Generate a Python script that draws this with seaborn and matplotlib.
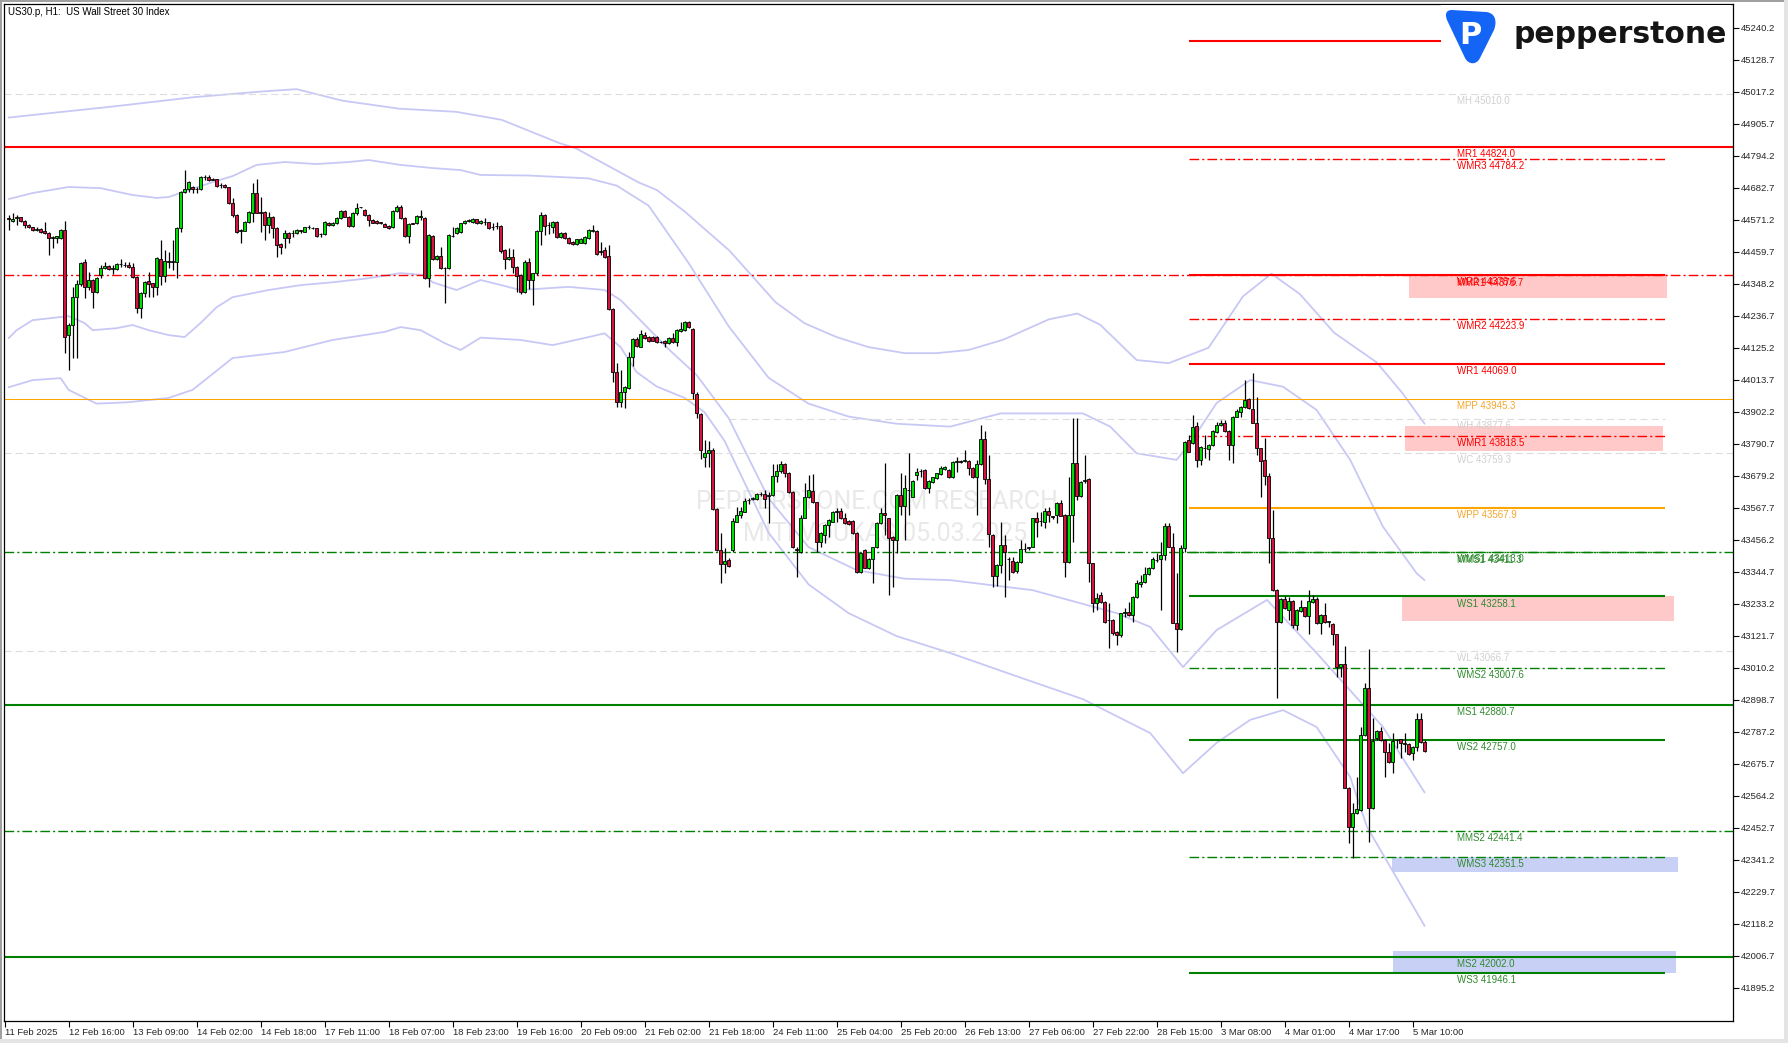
import numpy as np
import pandas as pd
import matplotlib
matplotlib.use("Agg")
import matplotlib.pyplot as plt
from matplotlib.path import Path
from matplotlib.patches import PathPatch, Rectangle
from matplotlib.transforms import IdentityTransform
import seaborn as sns

# ---- hourly candles (US30, H1) ----
opens = [
    44576, 44567, 44576, 44579, 44567, 44553, 44544, 44536, 44538, 44533,
    44524, 44506, 44506, 44506, 44535, 44169, 44204, 44303, 44346, 44422,
    44338, 44361, 44320, 44378, 44402, 44410, 44400, 44398, 44416, 44414,
    44413, 44407, 44373, 44262, 44314, 44357, 44349, 44338, 44433, 44376,
    44426, 44425, 44422, 44541, 44669, 44677, 44686, 44678, 44677, 44719,
    44719, 44712, 44712, 44692, 44692, 44684, 44630, 44587, 44533, 44533,
    44564, 44596, 44665, 44596, 44599, 44553, 44582, 44541, 44486, 44506,
    44524, 44524, 44524, 44533, 44529, 44544, 44542, 44541, 44521, 44521,
    44561, 44553, 44558, 44578, 44601, 44582, 44549, 44593, 44614, 44605,
    44587, 44570, 44567, 44561, 44556, 44549, 44544, 44601, 44617, 44576,
    44514, 44558, 44558, 44582, 44578, 44367, 44514, 44433, 44445, 44402,
    44402, 44515, 44526, 44529, 44558, 44567, 44564, 44572,
    44558, 44562, 44562, 44545, 44549, 44549, 44466, 44433, 44442, 44405,
    44378, 44320, 44425, 44361, 44384, 44533, 44588, 44553, 44547, 44562,
    44512, 44526, 44508, 44495, 44485, 44491, 44489, 44508, 44533, 44533,
    44460, 44466, 44445, 44260, 44039, 43935, 43972, 43983, 44091, 44155,
    44129, 44169, 44163, 44163, 44163, 44146, 44149, 44140, 44160, 44146,
    44183, 44187, 44213, 44189, 43964, 43893, 43745, 43757, 43768, 43562,
    43420, 43371, 43385, 43420, 43519, 43542, 43554, 43594, 43599, 43597,
    43614, 43614, 43609, 43612, 43679, 43695, 43720, 43687, 43623, 43425,
    43414, 43533, 43604, 43626, 43586, 43447, 43472, 43507, 43519, 43554,
    43556, 43530, 43522, 43521, 43480, 43342, 43420, 43358, 43389, 43429,
    43515, 43550, 43530, 43466, 43455, 43612, 43575, 43629, 43606, 43681,
    43695, 43699, 43637, 43658, 43670, 43684, 43701, 43699, 43675, 43727,
    43728, 43731, 43730,
    43705, 43673, 43720, 43806, 43667, 43472, 43329, 43368, 43437, 43389,
    43382, 43348, 43377, 43423, 43428, 43432, 43530, 43521, 43519, 43557,
    43537, 43542, 43585, 43542, 43377, 43542, 43722, 43609, 43661, 43667,
    43373, 43234, 43263, 43240, 43176, 43176, 43135, 43124, 43201, 43203,
    43195, 43257, 43301, 43307, 43335, 43356, 43385, 43387, 43402, 43504,
    43429, 43167, 43143, 43426, 43803, 43792, 43852, 43734, 43774, 43771,
    43786, 43832, 43856, 43861, 43835, 43786, 43885, 43902, 43919, 43945,
    43910, 43864, 43774, 43734, 43678, 43461, 43280, 43170, 43248, 43211,
    43243, 43159, 43208, 43220, 43190, 43240, 43248, 43164, 43193, 43170,
    43161, 43126, 43011, 43021, 42592, 42456, 42502, 42514, 42775, 42938,
    42520, 42766, 42789, 42758, 42717, 42680, 42757, 42760, 42745, 42744,
    42711, 42734, 42830, 42752,
]
highs = [
    44587, 44593, 44587, 44582, 44569, 44556, 44547, 44544, 44541, 44564,
    44527, 44514, 44516, 44538, 44567, 44210, 44338, 44361, 44425, 44433,
    44390, 44364, 44370, 44413, 44425, 44413, 44413, 44420, 44433, 44425,
    44425, 44419, 44376, 44318, 44358, 44390, 44352, 44440, 44500, 44465,
    44460, 44500, 44545, 44672, 44744, 44705, 44690, 44684, 44722, 44727,
    44727, 44716, 44714, 44698, 44695, 44686, 44646, 44590, 44538, 44567,
    44602, 44698, 44712, 44651, 44602, 44599, 44585, 44544, 44489, 44535,
    44527, 44535, 44538, 44536, 44547, 44553, 44545, 44543, 44524, 44567,
    44564, 44564, 44580, 44605, 44604, 44584, 44599, 44630, 44617, 44608,
    44590, 44573, 44570, 44564, 44558, 44552, 44604, 44622, 44622, 44579,
    44558, 44561, 44587, 44605, 44580, 44521, 44517, 44448, 44477, 44405,
    44521, 44547, 44544, 44561, 44570, 44572, 44576, 44575,
    44569, 44578, 44564, 44558, 44564, 44552, 44469, 44471, 44468, 44408,
    44381, 44431, 44436, 44387, 44536, 44599, 44591, 44564, 44565, 44565,
    44527, 44529, 44511, 44497, 44505, 44506, 44515, 44538, 44553, 44536,
    44492, 44477, 44483, 44263, 44073, 44047, 43992, 44111, 44158, 44163,
    44187, 44181, 44166, 44166, 44166, 44150, 44152, 44163, 44175, 44190,
    44216, 44218, 44218, 44192, 43969, 43896, 43803, 43801, 43777, 43565,
    43478, 43426, 43391, 43530, 43571, 43571, 43600, 43600, 43606, 43618,
    43623, 43629, 43623, 43718, 43718, 43731, 43723, 43693, 43626, 43432,
    43542, 43655, 43681, 43684, 43589, 43481, 43510, 43528, 43557, 43565,
    43565, 43550, 43525, 43524, 43483, 43414, 43423, 43392, 43432, 43518,
    43565, 43722, 43533, 43469, 43615, 43689, 43681, 43757, 43664, 43705,
    43701, 43702, 43664, 43676, 43690, 43713, 43713, 43702, 43731, 43745,
    43733, 43768, 43733,
    43708, 43734, 43856, 43836, 43751, 43475, 43371, 43519, 43472, 43394,
    43397, 43380, 43455, 43443, 43432, 43533, 43554, 43554, 43565, 43571,
    43539, 43588, 43594, 43545, 43673, 43879, 43879, 43661, 43751, 43670,
    43376, 43269, 43275, 43243, 43234, 43179, 43138, 43202, 43217, 43240,
    43260, 43315, 43333, 43362, 43362, 43397, 43408, 43449, 43513, 43515,
    43478, 43339, 43437, 43800, 43821, 43890, 43867, 43781, 43821, 43789,
    43838, 43867, 43873, 43873, 43838, 43888, 43910, 43922, 44012, 43948,
    44036, 43952, 43777, 43809, 43687, 43559, 43283, 43251, 43260, 43257,
    43246, 43214, 43246, 43223, 43281, 43263, 43257, 43196, 43234, 43174,
    43164, 43129, 43024, 43085, 42595, 42537, 42630, 42804, 42955, 43074,
    42833, 42792, 42804, 42761, 42746, 42783, 42763, 42763, 42781, 42747,
    42737, 42853, 42853, 42758,
]
lows = [
    44535, 44564, 44553, 44564, 44541, 44541, 44530, 44533, 44526, 44521,
    44448, 44471, 44489, 44503, 44105, 44047, 44088, 44088, 44340, 44297,
    44326, 44262, 44315, 44367, 44398, 44395, 44382, 44395, 44407, 44405,
    44402, 44367, 44245, 44227, 44303, 44303, 44303, 44309, 44344, 44355,
    44402, 44396, 44367, 44529, 44663, 44669, 44663, 44663, 44674, 44710,
    44707, 44708, 44686, 44681, 44681, 44627, 44579, 44526, 44489, 44530,
    44561, 44564, 44593, 44529, 44500, 44524, 44506, 44440, 44452, 44471,
    44491, 44510, 44521, 44524, 44527, 44538, 44537, 44510, 44510, 44518,
    44550, 44550, 44556, 44575, 44579, 44546, 44546, 44587, 44612, 44584,
    44549, 44558, 44556, 44557, 44544, 44538, 44541, 44598, 44573, 44511,
    44491, 44555, 44555, 44570, 44365, 44338, 44430, 44430, 44399, 44280,
    44399, 44510, 44522, 44526, 44555, 44563, 44561, 44555,
    44556, 44553, 44538, 44535, 44537, 44456, 44399, 44430, 44384, 44320,
    44311, 44315, 44330, 44274, 44378, 44483, 44518, 44520, 44524, 44509,
    44509, 44505, 44488, 44482, 44483, 44489, 44486, 44505, 44529, 44449,
    44448, 44439, 44257, 44007, 43919, 43919, 43914, 43980, 44062, 44129,
    44126, 44157, 44145, 44147, 44141, 44141, 44129, 44137, 44143, 44131,
    44180, 44184, 44195, 43945, 43881, 43736, 43710, 43710, 43559, 43417,
    43304, 43341, 43361, 43414, 43516, 43530, 43551, 43580, 43594, 43594,
    43608, 43565, 43513, 43609, 43658, 43687, 43675, 43617, 43426, 43327,
    43408, 43530, 43600, 43583, 43414, 43432, 43443, 43466, 43516, 43519,
    43527, 43510, 43506, 43475, 43339, 43339, 43356, 43355, 43306, 43426,
    43512, 43472, 43263, 43292, 43408, 43542, 43455, 43542, 43603, 43664,
    43673, 43634, 43620, 43655, 43667, 43681, 43698, 43672, 43672, 43693,
    43722, 43728, 43681,
    43670, 43542, 43717, 43649, 43432, 43292, 43294, 43339, 43255, 43315,
    43339, 43339, 43374, 43414, 43420, 43429, 43466, 43505, 43495, 43519,
    43527, 43513, 43537, 43327, 43374, 43449, 43594, 43606, 43652, 43310,
    43205, 43211, 43237, 43167, 43077, 43124, 43089, 43118, 43188, 43190,
    43170, 43254, 43292, 43304, 43332, 43353, 43379, 43211, 43385, 43429,
    43164, 43066, 43140, 43414, 43760, 43789, 43710, 43716, 43739, 43734,
    43783, 43829, 43853, 43832, 43734, 43724, 43882, 43885, 43916, 43911,
    43861, 43751, 43606, 43646, 43373, 43277, 42903, 43164, 43214, 43176,
    43147, 43141, 43205, 43187, 43129, 43237, 43161, 43129, 43167, 43153,
    43089, 42979, 42979, 42589, 42398, 42345, 42499, 42511, 42772, 42403,
    42517, 42758, 42755, 42630, 42679, 42642, 42729, 42694, 42717, 42705,
    42688, 42721, 42749, 42717,
]
closes = [
    44574, 44573, 44579, 44567, 44553, 44544, 44535, 44538, 44529, 44524,
    44506, 44512, 44514, 44535, 44163, 44204, 44303, 44346, 44419, 44338,
    44361, 44320, 44367, 44402, 44410, 44398, 44402, 44416, 44416, 44413,
    44405, 44373, 44262, 44314, 44355, 44346, 44338, 44436, 44376, 44427,
    44425, 44424, 44541, 44669, 44677, 44701, 44677, 44678, 44719, 44720,
    44710, 44711, 44689, 44691, 44684, 44630, 44587, 44529, 44535, 44564,
    44599, 44665, 44596, 44595, 44553, 44579, 44541, 44483, 44477, 44526,
    44506, 44523, 44535, 44532, 44544, 44545, 44541, 44514, 44520, 44564,
    44553, 44561, 44578, 44601, 44582, 44549, 44596, 44613, 44615, 44587,
    44570, 44561, 44558, 44560, 44547, 44541, 44601, 44614, 44576, 44514,
    44556, 44557, 44584, 44583, 44369, 44518, 44433, 44445, 44402, 44401,
    44518, 44514, 44541, 44558, 44567, 44568, 44573, 44558,
    44567, 44562, 44541, 44547, 44550, 44462, 44433, 44442, 44405, 44376,
    44320, 44425, 44361, 44384, 44533, 44588, 44549, 44552, 44562, 44512,
    44524, 44508, 44491, 44485, 44503, 44503, 44512, 44535, 44534, 44452,
    44459, 44442, 44260, 44039, 43935, 43972, 43989, 44091, 44155, 44132,
    44173, 44160, 44148, 44150, 44144, 44145, 44140, 44160, 44146, 44187,
    44189, 44213, 44198, 43966, 43896, 43768, 43757, 43768, 43562, 43420,
    43371, 43382, 43364, 43521, 43542, 43556, 43591, 43595, 43600, 43614,
    43615, 43597, 43612, 43679, 43695, 43720, 43687, 43623, 43429, 43420,
    43533, 43604, 43629, 43586, 43447, 43478, 43507, 43525, 43554, 43555,
    43530, 43513, 43509, 43478, 43342, 43411, 43358, 43389, 43429, 43515,
    43548, 43542, 43461, 43455, 43612, 43575, 43635, 43630, 43661, 43691,
    43696, 43637, 43661, 43673, 43687, 43707, 43710, 43675, 43728, 43728,
    43727, 43733, 43705,
    43673, 43720, 43806, 43667, 43476, 43329, 43368, 43437, 43414, 43388,
    43344, 43377, 43422, 43424, 43429, 43530, 43519, 43522, 43557, 43542,
    43536, 43585, 43540, 43377, 43542, 43722, 43609, 43658, 43662, 43373,
    43234, 43251, 43240, 43170, 43175, 43132, 43124, 43199, 43202, 43193,
    43257, 43304, 43310, 43335, 43359, 43387, 43386, 43402, 43504, 43432,
    43167, 43143, 43426, 43797, 43763, 43850, 43734, 43778, 43775, 43786,
    43835, 43856, 43864, 43835, 43786, 43885, 43904, 43919, 43943, 43914,
    43864, 43774, 43731, 43678, 43461, 43280, 43170, 43248, 43217, 43243,
    43159, 43211, 43220, 43190, 43243, 43248, 43164, 43193, 43170, 43171,
    43127, 43011, 43021, 42592, 42456, 42502, 42517, 42775, 42938, 42520,
    42754, 42789, 42758, 42717, 42682, 42754, 42758, 42746, 42746, 42708,
    42734, 42830, 42752, 42721,
]

# envelope bands (bar position, price)
outer_up_x = [0, 26.4, 46.3, 63.4, 72, 83.4, 97.6, 111.9, 123.3, 137.5, 141.8, 157.5, 162, 168.9,
              180.3, 191.7, 199, 207, 215, 224, 232, 240, 248.7, 260.1, 267.2, 272.9, 282, 290,
              300, 308.6, 315.7, 322.8, 331.4, 342, 348.5, 354]
outer_up_y = [44927, 44966, 44998, 45018, 45026, 44986, 44958, 44947, 44919, 44839, 44820, 44701,
              44675, 44601, 44462, 44284, 44210, 44162, 44127, 44106, 44106, 44117, 44153, 44224,
              44244, 44205, 44082, 44071, 44125, 44304, 44383, 44312, 44177, 44074, 43966, 43860]
inner_up_x = [0, 6, 15, 23, 31, 37, 40, 45, 51, 56, 62, 69, 77, 85, 90, 98, 106, 113, 118, 130,
              145, 152, 160, 170, 180, 190, 200, 210, 222, 235.4, 248, 268.6, 275.4, 282, 292,
              295.4, 302, 310.4, 318.6, 327, 335.4, 343.6, 352, 354]
inner_up_y = [44643, 44664, 44685, 44681, 44657, 44647, 44650, 44674, 44702, 44723, 44762, 44772,
              44765, 44772, 44779, 44762, 44751, 44744, 44727, 44725, 44715, 44690, 44620, 44420,
              44200, 44020, 43930, 43885, 43860, 43850, 43896, 43896, 43850, 43757, 43734, 43793,
              43932, 44012, 43989, 43908, 43734, 43501, 43339, 43315]
inner_lo_x = [0, 2, 6, 15, 19, 21, 27, 31, 35, 40, 44, 48, 52, 56, 65, 73, 81, 90, 98, 104, 106,
              112, 118, 128, 140, 149, 153, 158, 165, 172, 180, 190, 200, 212, 224, 235.4, 256,
              277, 285.4, 293.6, 302, 314.6, 327, 343.6, 354]
inner_lo_y = [44158, 44186, 44221, 44235, 44211, 44186, 44193, 44204, 44186, 44169, 44162, 44211,
              44266, 44301, 44326, 44343, 44353, 44367, 44385, 44378, 44353, 44326, 44361, 44326,
              44337, 44326, 44291, 44220, 44120, 44030, 43880, 43600, 43430, 43350, 43320, 43315,
              43280, 43200, 43152, 43012, 43141, 43246, 43061, 42803, 42575]
outer_lo_x = [0, 6, 13, 15, 22, 30, 40, 46, 56, 69, 81, 94, 98, 103, 109, 113, 118, 128, 136, 145,
              149, 153, 157, 162, 169, 174, 179, 190, 200, 210, 222, 235.4, 252, 268.6, 285.4,
              293.6, 302, 310.4, 318.6, 327, 335.4, 339.6, 354]
outer_lo_y = [43987, 44012, 44019, 43978, 43930, 43935, 43950, 43978, 44089, 44110, 44152, 44180,
              44197, 44186, 44141, 44117, 44160, 44152, 44134, 44162, 44175, 44127, 44040, 43990,
              43950, 43900, 43800, 43480, 43300, 43200, 43120, 43061, 42980, 42900, 42782, 42642,
              42748, 42828, 42862, 42803, 42629, 42455, 42110]

time_labels = ["11 Feb 2025", "12 Feb 16:00", "13 Feb 09:00", "14 Feb 02:00", "14 Feb 18:00",
               "17 Feb 11:00", "18 Feb 07:00", "18 Feb 23:00", "19 Feb 16:00", "20 Feb 09:00",
               "21 Feb 02:00", "21 Feb 18:00", "24 Feb 11:00", "25 Feb 04:00", "25 Feb 20:00",
               "26 Feb 13:00", "27 Feb 06:00", "27 Feb 22:00", "28 Feb 15:00", "3 Mar 08:00",
               "4 Mar 01:00", "4 Mar 17:00", "5 Mar 10:00"]
price_ticks = [45240.2, 45128.7, 45017.2, 44905.7, 44794.2, 44682.7, 44571.2, 44459.7,
               44348.2, 44236.7, 44125.2, 44013.7, 43902.2, 43790.7, 43679.2, 43567.7,
               43456.2, 43344.7, 43233.2, 43121.7, 43010.2, 42898.7, 42787.2, 42675.7,
               42564.2, 42452.7, 42341.2, 42229.7, 42118.2, 42006.7, 41895.2]

# monthly pivots (whole chart) and weekly pivots (from the week open)
month_names = ["MH", "MR1", "MMR1", "MPP", "WC", "MMS1", "WL", "MS1", "MMS2", "MS2"]
month_values = [45010.0, 44824.0, 44376.7, 43945.3, 43759.3, 43411.3, 43066.7, 42880.7, 42441.4, 42002.0]
week_names = ["WR3", "WMR3", "WR2", "WMR2", "WR1", "WH", "WMR1", "WPP", "WMS1", "WS1",
              "WMS2", "WS2", "WMS3", "WS3"]
week_values = [45195.0, 44784.2, 44378.6, 44223.9, 44069.0, 43877.6, 43818.5, 43567.9, 43413.0,
               43258.1, 43007.6, 42757.0, 42351.5, 41946.1]

# shaded zones (bar from, bar to, price low, price high)
zone_x0 = [350.1, 349.0, 348.4, 345.9, 346.1]
zone_x1 = [414.6, 413.6, 416.4, 417.4, 416.9]
zone_lo = [44299, 43766, 43173, 42299, 41947]
zone_hi = [44381, 43852, 43259, 42349, 42023]
zone_kind = ["pink", "pink", "pink", "blue", "blue"]

# ---- style ----
sns.set_style("white")
plt.rcParams["font.family"] = ["Liberation Sans", "DejaVu Sans"]
plt.rcParams["lines.scale_dashes"] = False

RED, ORANGE, GREEN, GRAY = "#ff0000", "#ffa500", "#008000", "#dcdcdc"
BAND = "#c8c8f6"
DASHDOT = (0, (7, 2.2, 1.5, 2.2))
DASHED = (0, (5, 3))


def level_style(name):
    if name in ("MH", "WH", "WC", "WL"):
        return GRAY, 0.8, DASHED, "#d0d0d0"
    if "PP" in name:
        col = ORANGE
        lab = "#f4a62a"
    elif "R" in name:
        col = RED
        lab = RED
    else:
        col = GREEN
        lab = "#2f8a2f"
    if "M" in name[1:] or name.startswith("MM"):
        return col, 1.0, DASHDOT, lab
    thin = name in ("MPP", "WMS1")
    return col, 0.75 if thin else 1.5, "-", lab


n = min(len(opens), len(highs), len(lows), len(closes))
df = pd.DataFrame({"bar": np.arange(n), "open": opens[:n], "high": highs[:n],
                   "low": lows[:n], "close": closes[:n]})

W, H = 1788, 1043
fig = plt.figure(figsize=(W / 100, H / 100), dpi=100)
ax_l, ax_r, ax_t, ax_b = 3.5, 1733, 3.5, 1020.6
ax = fig.add_axes([ax_l / W, 1 - ax_b / H, (ax_r - ax_l) / W, (ax_b - ax_t) / H])
ax.set_facecolor("white")

# zones
for x0, x1, lo, hi, kind in zip(zone_x0, zone_x1, zone_lo, zone_hi, zone_kind):
    fc = "#ffc9c9" if kind == "pink" else "#c9d0f6"
    ax.add_patch(Rectangle((x0, lo), x1 - x0, hi - lo, facecolor=fc, edgecolor="none", zorder=1))

# bands
for bx, by in [(outer_up_x, outer_up_y), (inner_up_x, inner_up_y),
               (inner_lo_x, inner_lo_y), (outer_lo_x, outer_lo_y)]:
    m = min(len(bx), len(by))
    sns.lineplot(x=bx[:m], y=by[:m], ax=ax, color=BAND, lw=1.3, sort=False, estimator=None,
                 zorder=1.5)

# level lines + labels
LABEL_X = 362
for name, val in zip(month_names, month_values):
    col, lw, ls, lab = level_style(name)
    ax.axhline(val, color=col, lw=lw, ls=ls, zorder=2)
for name, val in zip(week_names, week_values):
    col, lw, ls, lab = level_style(name)
    x0 = 180 if name == "WH" else 295.2
    ax.hlines(val, x0, 414, color=col, lw=lw, linestyles=ls, zorder=2)

for name, val in list(zip(month_names, month_values)) + list(zip(week_names, week_values)):
    if name == "WR3":
        continue
    col, lw, ls, lab = level_style(name)
    ax.annotate(f"{name} {val:.1f}", (LABEL_X, val), xytext=(0, -1.5), textcoords="offset points",
                ha="left", va="top", fontsize=7, color=lab, zorder=6)

# candles
x = df["bar"].to_numpy()
o, h, l, c = (df[k].to_numpy(dtype=float) for k in ("open", "high", "low", "close"))
up = c >= o
bot = np.minimum(o, c)
hgt = np.maximum(np.abs(c - o), 1.5)
ax.vlines(x, l, h, color="black", lw=0.9, zorder=3)
ax.bar(x[up], hgt[up], bottom=bot[up], width=0.62, color="#00e000", edgecolor="black",
       linewidth=0.6, zorder=4)
ax.bar(x[~up], hgt[~up], bottom=bot[~up], width=0.62, color="#d4143c", edgecolor="black",
       linewidth=0.6, zorder=4)

# watermark
ax.text(217, 43587, "PEPPERSTONE.COM RESEARCH", ha="center", va="center", fontsize=18,
        family=["Roboto", "DejaVu Sans"], color="#e9e9e9", zorder=0.5)
ax.text(219, 43477, "MITI VOUKAS 05.03.2025", ha="center", va="center", fontsize=18,
        family=["Roboto", "DejaVu Sans"], color="#e9e9e9", zorder=0.5)

# axes
ax.set_xlim(-1.275, 431.1)
ax.set_ylim(41780.0, 45324.5)
ax.set_xlabel("")
ax.set_ylabel("")
ax.yaxis.tick_right()
ax.set_yticks(price_ticks)
ax.set_yticklabels([f"{p:.1f}" for p in price_ticks], fontsize=6.8)
ax.set_xticks([16 * k - 1 for k in range(len(time_labels))])
ax.set_xticklabels(time_labels, fontsize=6.8, ha="left")
ax.tick_params(axis="both", which="both", direction="out", length=4, width=0.8, color="black",
               pad=1.5, bottom=True, right=True, left=False, top=False)
for s in ax.spines.values():
    s.set_visible(True)
    s.set_color("black")
    s.set_linewidth(0.9)

# title
fig.text(8 / W, 1 - 7 / H, "US30.p, H1:  US Wall Street 30 Index", ha="left", va="top",
         fontsize=7, color="black")

# logo (pixel coords)
ident = IdentityTransform()
fig.patches.append(Rectangle((1441, H - 66), 290, 61, facecolor="white", edgecolor="none",
                             transform=ident, figure=fig, zorder=10))
pts = [(1452, 10), (1486, 12), (1496, 13), (1497, 22), (1494, 30), (1480, 58),
       (1476, 66), (1468, 64), (1465, 58), (1447, 20), (1444, 12), (1448, 10), (1452, 10)]
codes = [Path.MOVETO, Path.LINETO, Path.CURVE4, Path.CURVE4, Path.CURVE4, Path.LINETO,
         Path.CURVE4, Path.CURVE4, Path.CURVE4, Path.LINETO, Path.CURVE4, Path.CURVE4,
         Path.CURVE4]
icon = Path([(px, H - py) for px, py in pts], codes)
fig.patches.append(PathPatch(icon, facecolor="#1465f5", edgecolor="none", transform=ident,
                             figure=fig, zorder=11))
fig.text(1470 / W, 1 - 35 / H, "P", ha="center", va="center", fontsize=22, weight="bold",
         color="white", family="DejaVu Sans", zorder=12)
fig.text(1514 / W, 1 - 43 / H, "pepperstone", ha="left", va="baseline", fontsize=21.5,
         weight="bold", color="#141414", family="DejaVu Sans", zorder=12)

# window border
for rect in [(0, 0, 2, H), (0, H - 2, W, 2)]:
    fig.patches.append(Rectangle(rect[:2], rect[2], rect[3], facecolor="#a0a0a0",
                                 edgecolor="none", transform=ident, figure=fig))
for rect in [(0, 0, W, 4), (W - 4, 0, 4, H)]:
    fig.patches.append(Rectangle(rect[:2], rect[2], rect[3], facecolor="#e4e4e4",
                                 edgecolor="none", transform=ident, figure=fig))

fig.savefig("out.png", dpi=100)
